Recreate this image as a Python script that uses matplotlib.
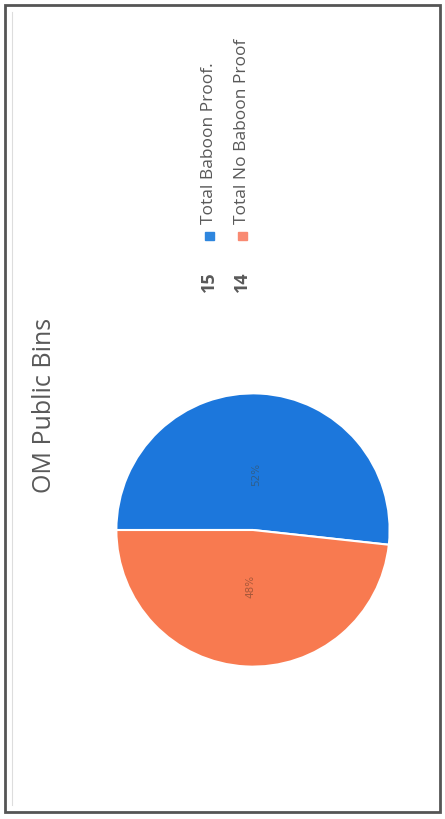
import matplotlib.pyplot as plt
from matplotlib.patches import Rectangle

# chart data
labels = ['Total Baboon Proof.', 'Total No Baboon Proof']
counts = [15, 14]
colors = ['#1c77dc', '#f87a50']
legend_colors = ['#2e86de', '#f98a72']
pct_colors = ['#2f5f8c', '#a8583a']

W, H = 445, 819
fig = plt.figure(figsize=(W / 100, H / 100), dpi=100)

# background canvas in pixel coordinates (y from top)
bg = fig.add_axes([0, 0, 1, 1])
bg.set_xlim(0, W)
bg.set_ylim(H, 0)
bg.axis('off')
bg.add_patch(Rectangle((5, 5), 435, 807, fill=False, edgecolor='#555555', lw=2))
bg.plot([12, 12], [12, 805], color='#dddddd', lw=0.8)

# the whole chart is rotated 90 degrees counter-clockwise
bg.text(45, 405, 'OM Public Bins', rotation=90, ha='center', va='center',
        fontsize=18, color='#595959', family='Open Sans')

# legend with counts
leg_x = [209, 242]
for i in range(len(labels)):
    bg.text(leg_x[i], 282, str(counts[i]), rotation=90, ha='center', va='center',
            fontsize=13, color='#595959', family='Open Sans', fontweight='bold')
    bg.add_patch(Rectangle((leg_x[i] - 4.5, 232), 9, 8, color=legend_colors[i]))
    bg.text(leg_x[i], 224, labels[i], rotation=90, ha='center', va='bottom',
            fontsize=12.5, color='#595959', family='Open Sans')

# pie
cx, cy, r = 253, 530, 138
ax = fig.add_axes([(cx - r) / W, 1 - (cy + r) / H, 2 * r / W, 2 * r / H])
wedges, texts, autotexts = ax.pie(
    counts, colors=colors, startangle=-6.2, autopct='%1.0f%%', pctdistance=0.41,
    wedgeprops=dict(edgecolor='white', linewidth=1.5), textprops=dict(fontsize=7.5))
for t, c in zip(autotexts, pct_colors):
    t.set_rotation(90)
    t.set_color(c)
ax.set_xlim(-1.01, 1.01)
ax.set_ylim(-1.01, 1.01)
ax.set_aspect('equal')

fig.savefig('out.png', dpi=100)
